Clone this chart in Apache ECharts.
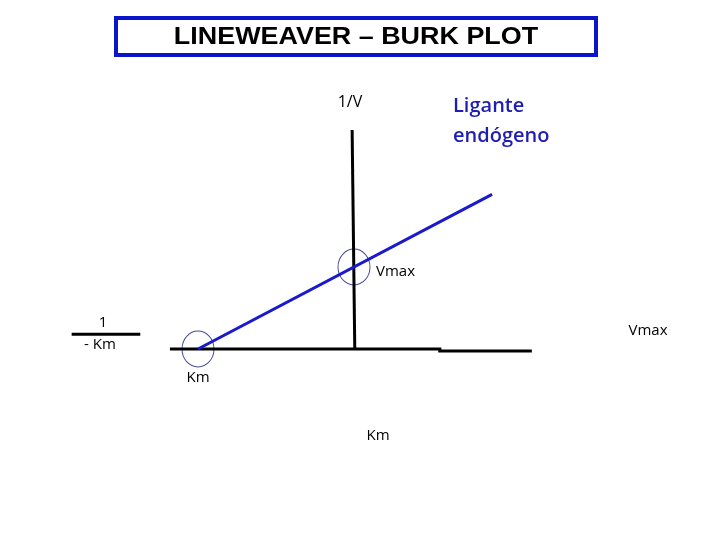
<!DOCTYPE html>
<html>
<head>
<meta charset="utf-8">
<script src="https://cdn.jsdelivr.net/npm/echarts@6/dist/echarts.min.js"></script>
<style>html,body{margin:0;padding:0;background:#fff}#main{width:720px;height:540px}</style>
</head>
<body>
<div id="main"></div>
<script>
// 1/[S] on x, 1/V on y; the x intercept is -1/Km, the y intercept 1/Vmax
var lineX = [-1, 0.885];
var lineY = [0, 1.885];
var hAxisLeft = [[-1.18, 0], [0.56, 0]];
var hAxisRight = [[0.54, -0.025], [1.14, -0.025]];
var vAxis = [[0.005, 0], [-0.012, 2.67]];
var circlePts = [[-1, 0], [0, 1]];
var fracBarX = [-1.81, -1.37];
var fracBarY = 0.18;

var myChart = echarts.init(document.getElementById('main'));
var font = '"Open Sans", "Noto Sans", sans-serif';
function blackLine(data) {
    return {type: 'line', symbol: 'none', data: data, lineStyle: {color: '#000', width: 3}};
}
var options = {
    animation: false,
    grid: {left: 42, right: 54, top: 103, bottom: 109},
    xAxis: {type: 'value', min: -2, max: 2, show: false},
    yAxis: {type: 'value', min: -1, max: 3, show: false},
    series: [
        blackLine(hAxisLeft),
        blackLine(hAxisRight),
        blackLine(vAxis),
        blackLine([[fracBarX[0], fracBarY], [fracBarX[1], fracBarY]]),
        {
            type: 'line', symbol: 'none',
            data: lineX.map(function (x, i) { return [x, lineY[i]]; }),
            lineStyle: {color: '#1a1acc', width: 3}
        },
        {
            type: 'scatter',
            symbol: 'circle', symbolSize: [32, 36],
            data: circlePts,
            itemStyle: {color: 'rgba(0,0,0,0)', borderColor: '#1c1c80', borderWidth: 1}
        }
    ],
    graphic: [
        {type: 'rect', shape: {x: 116, y: 18, width: 480, height: 37},
         style: {fill: '#fff', stroke: '#0a14c8', lineWidth: 4}},
        {type: 'text', x: 356, y: 38, scaleX: 1.17,
         style: {text: 'LINEWEAVER – BURK PLOT', font: 'bold 23px "Liberation Sans", Arial, sans-serif',
                 fill: '#000', align: 'center', verticalAlign: 'middle'}},
        {type: 'text', x: 350, y: 102,
         style: {text: '1/V', font: '16px ' + font, fill: '#000', align: 'center', verticalAlign: 'middle'}},
        {type: 'text', x: 453, y: 91,
         style: {text: 'Ligante\nendógeno', font: '600 20px ' + font, lineHeight: 30, fill: '#1e1eb4',
                 align: 'left', verticalAlign: 'top'}},
        {type: 'text', x: 376, y: 272,
         style: {text: 'Vmax', font: '15px ' + font, fill: '#000', align: 'left', verticalAlign: 'middle'}},
        {type: 'text', x: 103, y: 323,
         style: {text: '1', font: '15px ' + font, fill: '#000', align: 'center', verticalAlign: 'middle'}},
        {type: 'text', x: 100, y: 345,
         style: {text: '- Km', font: '15px ' + font, fill: '#000', align: 'center', verticalAlign: 'middle'}},
        {type: 'text', x: 648, y: 331,
         style: {text: 'Vmax', font: '15px ' + font, fill: '#000', align: 'center', verticalAlign: 'middle'}},
        {type: 'text', x: 198, y: 378,
         style: {text: 'Km', font: '15px ' + font, fill: '#000', align: 'center', verticalAlign: 'middle'}},
        {type: 'text', x: 378, y: 436,
         style: {text: 'Km', font: '15px ' + font, fill: '#000', align: 'center', verticalAlign: 'middle'}}
    ]
};
myChart.setOption(options);
</script>
</body>
</html>
